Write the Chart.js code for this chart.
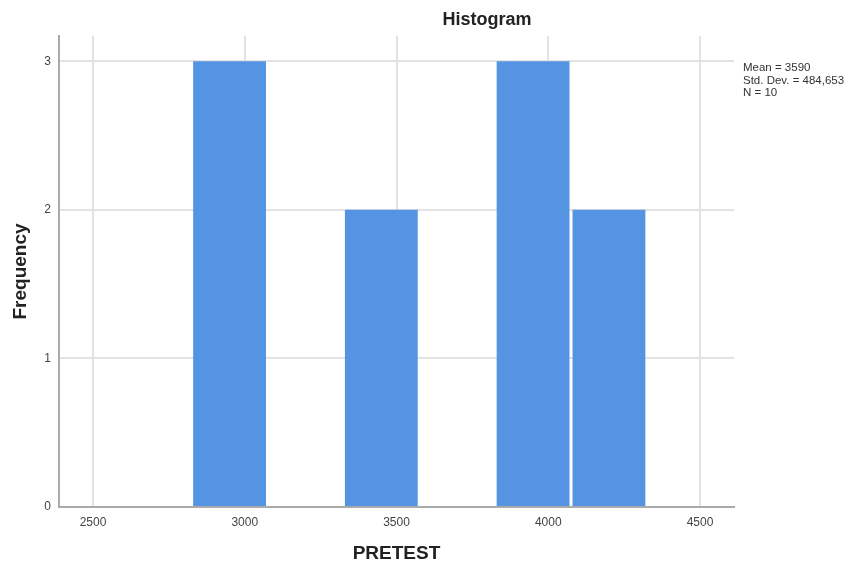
<!DOCTYPE html>
<html>
<head>
<meta charset="utf-8">
<script src="https://cdn.jsdelivr.net/npm/chart.js@4"></script>
<style>
  html, body { margin: 0; padding: 0; background: #fff; }
  #wrap { width: 856px; height: 563px; }
</style>
</head>
<body>
<div id="wrap"><canvas id="histChart"></canvas></div>
<script>
// bin centres (bin width 250) and counts
const binCenters = [2950, 3200, 3450, 3700, 3950, 4200];
const frequencies = [3, 0, 2, 0, 3, 2];
const xTicks = [2500, 3000, 3500, 4000, 4500];
const yTicks = [0, 1, 2, 3];
const statLines = ['Mean = 3590', 'Std. Dev. = 484,653', 'N = 10'];

const FONT = '"Liberation Sans", Arial, sans-serif';

const overlayText = {
    id: 'overlayText',
    afterDraw(chart) {
        const c = chart.ctx;
        c.save();
        c.fillStyle = '#222';
        c.font = 'bold 18px ' + FONT;
        c.textAlign = 'center';
        c.textBaseline = 'middle';
        c.fillText('Histogram', 487, 20);

        c.font = '11.5px ' + FONT;
        c.textAlign = 'left';
        c.fillStyle = '#333';
        statLines.forEach((t, i) => c.fillText(t, 743, 68 + i * 12.5));
        c.restore();
    }
};

document.addEventListener('DOMContentLoaded', () => {

    const ctx = document.getElementById('histChart');

    new Chart(ctx, {

        type: 'bar',

        data: {
            datasets: [
                {
                    label: 'PRETEST',
                    data: binCenters.map((x, i) => ({ x: x, y: frequencies[i] })),
                    backgroundColor: '#5594E2',
                    borderWidth: 0,
                    barPercentage: 0.96,
                    categoryPercentage: 1
                }
            ]
        },

        options: {
            responsive: true,
            maintainAspectRatio: false,
            animation: false,
            layout: { padding: { top: 36, right: 122, left: 0, bottom: 0 } },
            plugins: {
                legend: { display: false },
                tooltip: { enabled: false }
            },
            scales: {
                x: {
                    type: 'linear',
                    offset: false,
                    min: 2388,
                    max: 4612,
                    afterBuildTicks: (s) => { s.ticks = xTicks.map(v => ({ value: v })); },
                    afterFit: (s) => { s.height = 56; },
                    grid: { color: '#e2e2e2', lineWidth: 2, drawTicks: false, offset: false },
                    border: { color: '#aaaaaa', width: 2 },
                    ticks: {
                        padding: 8, color: '#444', font: { family: FONT, size: 12 },
                        callback: (v) => String(v)
                    },
                    title: {
                        display: true,
                        text: 'PRETEST',
                        color: '#222',
                        font: { family: FONT, size: 19, weight: 'bold', lineHeight: 1 },
                        padding: { top: 0, bottom: 0 }
                    }
                },
                y: {
                    min: 0,
                    max: 3.17,
                    afterBuildTicks: (s) => { s.ticks = yTicks.map(v => ({ value: v })); },
                    afterFit: (s) => { s.width = 59; },
                    grid: { color: '#e2e2e2', lineWidth: 2, drawTicks: false },
                    border: { color: '#aaaaaa', width: 2 },
                    ticks: { padding: 8, color: '#444', font: { family: FONT, size: 12 } },
                    title: {
                        display: true,
                        text: 'Frequency',
                        color: '#222',
                        font: { family: FONT, size: 19, weight: 'bold', lineHeight: 1 },
                        padding: { top: 11, bottom: 0 }
                    }
                }
            }
        },

        plugins: [overlayText]

    });

});
</script>
</body>
</html>
